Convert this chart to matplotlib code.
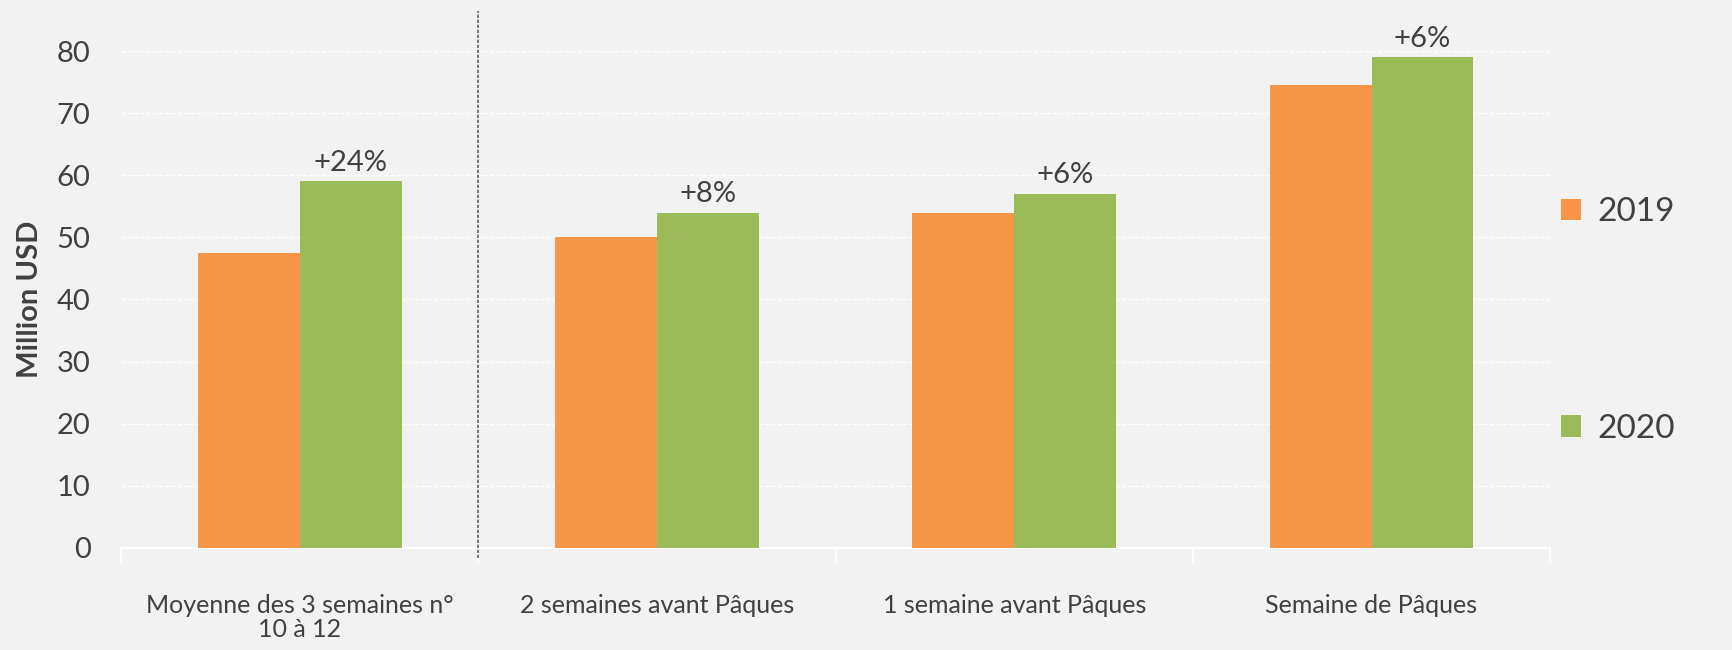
import numpy as np
import matplotlib.pyplot as plt

categories = ["Moyenne des 3 semaines n°\n10 à 12", "2 semaines avant Pâques",
              "1 semaine avant Pâques", "Semaine de Pâques"]
values_2019 = [47.5, 50, 54, 74.5]
values_2020 = [59, 54, 57, 79]
growth = ["+24%", "+8%", "+6%", "+6%"]

bg = "#F2F2F2"
txt = "#404040"
plt.rcParams['font.family'] = ['Lato', 'DejaVu Sans']

fig = plt.figure(figsize=(17.32, 6.5), dpi=100, facecolor=bg)
ax = fig.add_axes([0.0699, 0.157, 0.8251, 0.7645], facecolor=bg)

x = np.arange(len(categories))
w = 0.285
b1 = ax.bar(x - w / 2, values_2019, w, color="#F79646", label="2019", zorder=3)
b2 = ax.bar(x + w / 2, values_2020, w, color="#9BBB59", label="2020", zorder=3)

for xi, v, g in zip(x, values_2020, growth):
    ax.annotate(g, (xi + w / 2, v), xytext=(0, 4), textcoords="offset points",
                ha="center", va="bottom", fontsize=21, color=txt)

ax.set_xlim(-0.5, 3.5)
ax.set_ylim(0, 80)
ax.set_yticks(range(0, 81, 10))
ax.yaxis.grid(True, color="white", linestyle=(0, (3, 1.5)), linewidth=1.0, zorder=0)
ax.tick_params(axis="y", length=0, pad=22, labelsize=21, labelcolor=txt)

ax.set_xticks(x)
ax.set_xticklabels(categories, linespacing=1.05)
ax.tick_params(axis="x", length=0, pad=33, labelsize=18, labelcolor=txt)
ax.set_xticks(np.arange(-0.5, 3.6, 1), minor=True)
ax.tick_params(axis="x", which="minor", length=11, color="white", width=1.2)

for s in ["top", "right", "left"]:
    ax.spines[s].set_visible(False)
ax.spines["bottom"].set_color("white")
ax.spines["bottom"].set_linewidth(1.5)

ax.set_ylabel("Million USD", fontsize=21, fontweight="bold", color=txt, labelpad=10)

# separator between baseline and Easter weeks
ax.plot([0.5, 0.5], [-1.6, 86.4], color="#606060", linestyle=(0, (2, 1)),
        linewidth=1.2, clip_on=False, zorder=4)

leg = ax.legend(loc="center left", bbox_to_anchor=(0.998, 0.458), frameon=False,
                fontsize=24, labelspacing=5.6, handlelength=0.6, handleheight=0.6,
                handletextpad=0.5, borderaxespad=0.0, labelcolor=txt)

fig.savefig("out.png", dpi=100, facecolor=bg)
